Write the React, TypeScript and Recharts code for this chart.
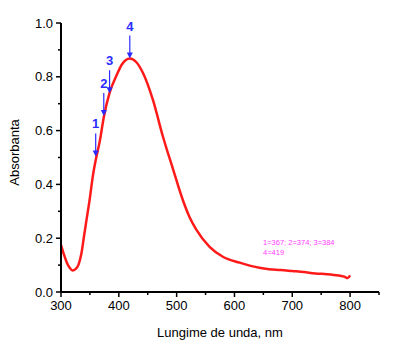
import { ComposedChart, Line, Scatter, XAxis, YAxis, Label } from 'recharts'

const wavelengths = [
  300, 305, 310, 315, 320, 325, 330, 335, 340, 345, 350, 355, 360, 367, 374, 384, 395, 405, 419, 430,
  442, 459, 476, 494, 511, 522, 534, 557, 580, 609, 643, 660,
  680, 700, 720, 740, 760, 780, 790, 796, 800,
]
const absorbance = [
  0.175, 0.14, 0.11, 0.09, 0.08, 0.085, 0.1, 0.14, 0.21, 0.28, 0.35, 0.43, 0.49, 0.56, 0.65, 0.74, 0.8, 0.845, 0.868, 0.855,
  0.813, 0.714, 0.58, 0.455, 0.34, 0.28, 0.232, 0.168, 0.131, 0.109, 0.09, 0.085,
  0.082, 0.078, 0.074, 0.069, 0.066, 0.061, 0.057, 0.052, 0.062,
]

// arrow markers on the curve
const markerLabels = ['1', '2', '3', '4']
const markerWl = [360, 374, 384, 419]
const markerAbs = [0.504, 0.654, 0.739, 0.868]

const xTicks = [300, 350, 400, 450, 500, 550, 600, 650, 700, 750, 800, 850]
const yTicks = [0, 0.1, 0.2, 0.3, 0.4, 0.5, 0.6, 0.7, 0.8, 0.9, 1.0]
const noteLines = ['1=367; 2=374; 3=384', '4=419']

const spectrum = wavelengths.map((wl, i) => ({ wl, abs: absorbance[i] }))
const markers = markerWl.map((wl, i) => ({ wl, abs: markerAbs[i], label: markerLabels[i] }))

const font = 'Liberation Sans, Arial, sans-serif'
const blue = '#2b2bff'

const YTick = ({ x, y, payload }: any) => {
  const major = Math.round(payload.value * 10) % 2 === 0
  return (
    <g>
      <line x1={x} x2={x - (major ? 5 : 3)} y1={y} y2={y} stroke="#000" strokeWidth={1.5} />
      {major && (
        <text x={x - 8} y={y} dy={4.5} textAnchor="end" fontSize={13} fontFamily={font} fill="#000">
          {payload.value.toFixed(1)}
        </text>
      )}
    </g>
  )
}

const XTick = ({ x, y, payload }: any) => {
  const major = payload.value % 100 === 0 && payload.value <= 800
  return (
    <g>
      <line x1={x} x2={x} y1={y} y2={y + (major ? 5 : 3)} stroke="#000" strokeWidth={1.5} />
      {major && (
        <text x={x} y={y + 18} textAnchor="middle" fontSize={13} fontFamily={font} fill="#000">
          {payload.value}
        </text>
      )}
    </g>
  )
}

const Arrow = ({ cx, cy, payload }: any) => (
  <g>
    <line x1={cx} x2={cx} y1={cy - 23} y2={cy - 4} stroke={blue} strokeWidth={1.2} />
    <path d={`M${cx - 3},${cy - 6} L${cx + 3},${cy - 6} L${cx},${cy} Z`} fill={blue} />
    <text x={cx} y={cy - 28} textAnchor="middle" fontSize={13} fontWeight="bold" fontFamily={font} fill={blue}>
      {payload.label}
    </text>
  </g>
)

const YLabel = ({ viewBox }: any) => {
  const cx = 14
  const cy = viewBox.y + viewBox.height / 2 - 5
  return (
    <text
      x={cx}
      y={cy}
      transform={`rotate(-90, ${cx}, ${cy})`}
      textAnchor="middle"
      dominantBaseline="central"
      fontSize={13}
      fontFamily={font}
      fill="#000"
    >
      Absorbanta
    </text>
  )
}

export default function App() {
  return (
    <div style={{ position: 'fixed', left: 0, top: 0, width: 417, height: 354, background: '#fff' }}>
      <ComposedChart width={417} height={354} data={spectrum} margin={{ top: 23, right: 38, left: 0, bottom: 0 }}>
        <XAxis
          dataKey="wl"
          type="number"
          domain={[300, 850]}
          ticks={xTicks}
          interval={0}
          tick={<XTick />}
          tickSize={0}
          tickMargin={0}
          axisLine={{ stroke: '#000', strokeWidth: 2 }}
          height={62}
        >
          <Label value="Lungime de unda, nm" position="insideBottom" offset={17} fontSize={13} fontFamily={font} fill="#000" />
        </XAxis>
        <YAxis
          type="number"
          domain={[0, 1]}
          ticks={yTicks}
          interval={0}
          tick={<YTick />}
          tickSize={0}
          tickMargin={0}
          width={61}
          axisLine={{ stroke: '#000', strokeWidth: 2 }}
        >
          <Label content={<YLabel />} />
        </YAxis>
        <Line
          type="monotone"
          dataKey="abs"
          stroke="#ff1a1a"
          strokeWidth={2.5}
          dot={false}
          isAnimationActive={false}
        />
        <Scatter data={markers} dataKey="abs" shape={<Arrow />} isAnimationActive={false} />
      </ComposedChart>
      <div
        style={{
          position: 'absolute',
          left: 263,
          top: 238,
          fontSize: 7.5,
          lineHeight: '10px',
          color: '#ff3cff',
          fontFamily: font,
          whiteSpace: 'pre',
        }}
      >
        {noteLines.join('\n')}
      </div>
    </div>
  )
}
